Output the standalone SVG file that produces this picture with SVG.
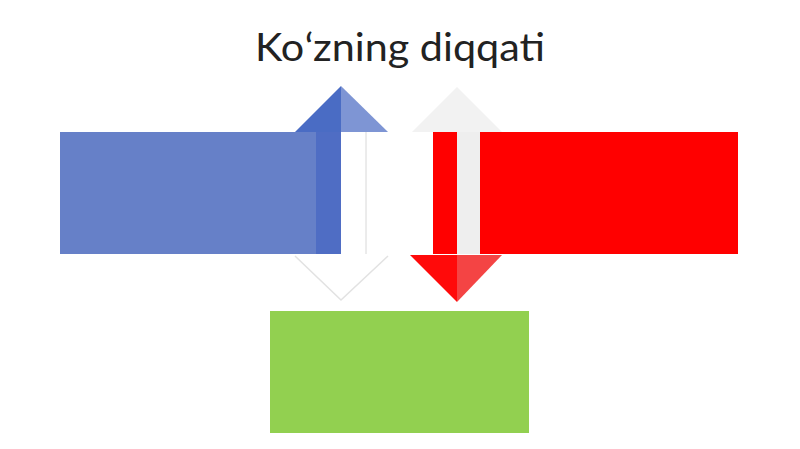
<svg xmlns="http://www.w3.org/2000/svg" width="800" height="449" viewBox="0 0 800 449">
<style>
.t{font-family:Lato,"Open Sans","Liberation Sans",sans-serif;font-size:39px;fill:#222}
.ghost{fill:none;stroke:#e2e2e2;stroke-width:1.5}
</style>
<rect width="800" height="449" fill="#ffffff"/>
<text class="t" x="400" y="61" text-anchor="middle" textLength="290" lengthAdjust="spacingAndGlyphs">Koʻzning diqqati</text>
<g id="blue">
<rect x="60" y="132" width="256" height="122" fill="#6680c8"/>
<polygon points="316,132 341,132 341,254 316,254" fill="#4f6dc4"/>
<polygon points="295,132 341,86 341,132" fill="#4a6cc4"/>
<polygon points="341,86 388,132 341,132" fill="#7e95d4"/>
<line x1="366" y1="132" x2="366" y2="254" stroke="#d8d8d8" stroke-width="1"/>
</g>
<g id="ghost-down">
<polyline class="ghost" points="295,256 341,300 388,256"/>
</g>
<g id="red">
<rect x="480" y="132" width="258" height="122" fill="#ff0000"/>
<rect x="457" y="132" width="23" height="122" fill="#eeeeee"/>
<rect x="433" y="132" width="24" height="122" fill="#ff0000"/>
<polygon points="410,255 457,255 457,302" fill="#ff0a0a"/>
<polygon points="457,255 502,255 457,302" fill="#f44444"/>
</g>
<g id="ghost-up">
<polygon points="412,132 457,87 502,132" fill="#f2f2f2"/>
</g>
<g id="green">
<rect x="270" y="311" width="259" height="122" fill="#92d050"/>
</g>
<g id="connectors"></g>
</svg>
